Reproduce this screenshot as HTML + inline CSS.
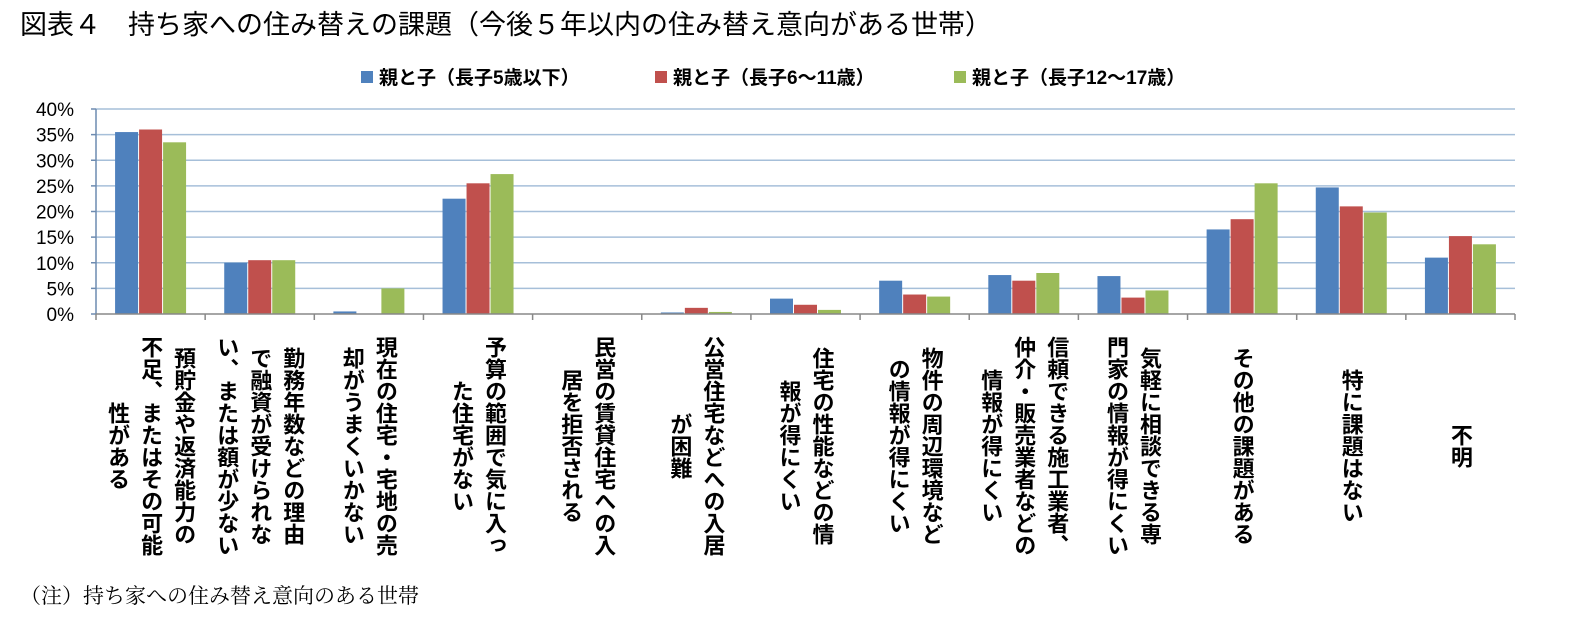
<!DOCTYPE html>
<html><head><meta charset="utf-8">
<style>
body{margin:0;background:#fff;width:1579px;height:640px;overflow:hidden;position:relative;font-family:"Liberation Sans","Noto Sans CJK JP",sans-serif;}
#title{position:absolute;left:20px;top:3px;font-size:27px;color:#000;white-space:nowrap;}
.lg{position:absolute;top:63px;font-size:19px;font-weight:bold;white-space:nowrap;}
.sw{display:inline-block;width:12px;height:12px;margin-right:6px;vertical-align:1px;}
.cl{position:absolute;top:333px;writing-mode:vertical-rl;text-align:center;font-size:22px;font-weight:bold;line-height:33px;height:226px;white-space:nowrap;transform:translateX(-50%);}
#note{position:absolute;left:20px;top:580px;font-family:"Liberation Serif","Noto Serif CJK SC",serif;font-size:21px;white-space:nowrap;}
</style></head><body>
<div id="title">図表４　持ち家への住み替えの課題（今後５年以内の住み替え意向がある世帯）</div>
<div>
<span class="lg" style="left:361px"><span class="sw" style="background:#4F81BD"></span>親と子（長子5歳以下）</span>
<span class="lg" style="left:655px"><span class="sw" style="background:#C0504D"></span>親と子（長子6～11歳）</span>
<span class="lg" style="left:954px"><span class="sw" style="background:#9BBB59"></span>親と子（長子12～17歳）</span>
</div>
<svg id="chart" width="1579" height="640" style="position:absolute;left:0;top:0"></svg>
<div id="labels"></div>
<div id="note">（注）持ち家への住み替え意向のある世帯</div>
<script>
const categories=["預貯金や返済能力の<br>不足、またはその可能<br>性がある","勤務年数などの理由<br>で融資が受けられな<br>い、または額が少ない","現在の住宅・宅地の売<br>却がうまくいかない","予算の範囲で気に入っ<br>た住宅がない","民営の賃貸住宅への入<br>居を拒否される","公営住宅などへの入居<br>が困難","住宅の性能などの情<br>報が得にくい","物件の周辺環境など<br>の情報が得にくい","信頼できる施工業者、<br>仲介・販売業者などの<br>情報が得にくい","気軽に相談できる専<br>門家の情報が得にくい","その他の課題がある","特に課題はない","不明"];
const seriesA=[35.5,10,0.5,22.5,0,0.3,3,6.5,7.6,7.4,16.5,24.7,11];
const seriesB=[36,10.5,0,25.5,0,1.2,1.8,3.8,6.5,3.2,18.5,21,15.2];
const seriesC=[33.5,10.5,5,27.3,0,0.4,0.8,3.4,8,4.6,25.5,19.8,13.6];
const yTicks=[0,5,10,15,20,25,30,35,40];
const colors=["#4F81BD","#C0504D","#9BBB59"];
const X0=96,X1=1515,Y0=314,Y1=109,YMAX=40;
const svg=document.getElementById('chart');const NS="http://www.w3.org/2000/svg";
const n=categories.length,cw=(X1-X0)/n;
function y(v){return Y0-(v/YMAX)*(Y0-Y1);}
function xc(i){return X0+cw*(i+0.5);}
function mk(t,a){const e=document.createElementNS(NS,t);for(const k in a)e.setAttribute(k,a[k]);svg.appendChild(e);return e;}
yTicks.forEach(t=>{
  if(t>0){const g=mk('line',{x1:X0,x2:X1,y1:y(t),y2:y(t),stroke:'#A6BFD9','stroke-width':1.5});
  
  }
  const tk=mk('line',{x1:X0-5,x2:X0,y1:y(t),y2:y(t),stroke:'#6D8BB0','stroke-width':1.5});
  
  
  const tx=mk('text',{x:X0-22,y:y(t)+7,'text-anchor':'end','font-size':19,'font-family':'"Liberation Sans",sans-serif',fill:'#000'});
  tx.textContent=t+'%';
  
  
});
[seriesA,seriesB,seriesC].forEach((s,si)=>{
  s.forEach((v,i)=>{
    const bw=23,gap=1;
    const x=xc(i)-(3*bw+2*gap)/2+si*(bw+gap);
    const r=mk('rect',{x:x,y:y(v),width:bw,height:Y0-y(v),fill:colors[si]});
    
    
  });
});
const ax=mk('line',{x1:X0,x2:X0,y1:Y1,y2:Y0,stroke:'#6D8BB0','stroke-width':1.5});


const bx=mk('line',{x1:X0,x2:X1,y1:Y0,y2:Y0,stroke:'#888','stroke-width':1.5});


for(let i=0;i<=n;i++){const t=mk('line',{x1:X0+cw*i,x2:X0+cw*i,y1:Y0,y2:Y0+6,stroke:'#888','stroke-width':1.5});
  
  }
const L=document.getElementById('labels');
categories.forEach((c,i)=>{
  const d=document.createElement('div');d.className='cl';d.innerHTML=c;d.style.left=xc(i)+'px';
  
  
  L.appendChild(d);
});
</script>
</body></html>
